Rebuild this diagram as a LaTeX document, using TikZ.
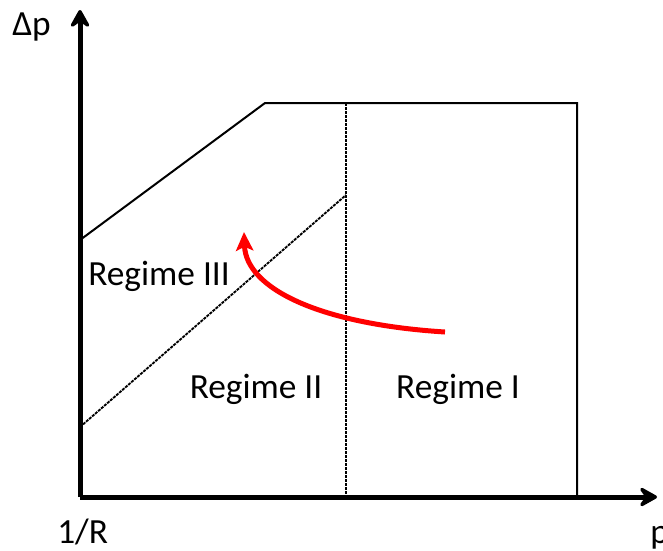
\documentclass[tikz,border=0pt]{standalone}
\usepackage{fontspec}
\setmainfont{Carlito}
\usetikzlibrary{arrows.meta}
\definecolor{flowred}{RGB}{255, 0, 0}

\tikzset{
  axisline/.style={line width=3.75pt, -{Stealth[length=17pt, width=19pt, inset=7pt, round]}},
  boundary/.style={line width=1.5pt},
  splitline/.style={line width=1.4pt, dash pattern=on 2.25pt off 0.75pt},
  regime/.style={inner sep=0pt, anchor=base}
}

\begin{document}
\begin{tikzpicture}[x=0.75pt, y=-0.75pt, every node/.style={font=\fontsize{26.5}{31}\selectfont}]
    \useasboundingbox (0,0) rectangle (663,550);

    % axes
    \coordinate (origin) at (80,497);
    \coordinate (ytip) at (80,10);
    \coordinate (xtip) at (657,497);
    \draw[axisline] (origin) -- (ytip);
    \draw[axisline] (origin) -- (xtip);
    \node[inner sep=0pt, anchor=base west] (dp) at (12,35) {Δp};
    \node[inner sep=0pt, anchor=base west] (invr) at (57,543) {1/R};
    \node[inner sep=0pt, anchor=base west] (pl) at (650,543) {p};

    % outer boundary
    \coordinate (b0) at (80,240);
    \coordinate (b1) at (265,103);
    \coordinate (b2) at (577,103);
    \coordinate (b3) at (577,497);
    \draw[boundary] (b0) -- (b1) -- (b2) -- (b3);

    % regime borders
    \coordinate (s0) at (80,427);
    \coordinate (s1) at (346,195);
    \coordinate (v0) at (346,103);
    \coordinate (v1) at (346,497);
    \draw[splitline] (s0) -- (s1);
    \draw[splitline] (v0) -- (v1);

    \node[regime] (r3) at (159,285) {Regime III};
    \node[regime] (r2) at (256,398) {Regime II};
    \node[regime] (r1) at (458,398) {Regime I};

    % path of the state
    \coordinate (c0) at (445,332);
    \coordinate (c1) at (244,232);
    \draw[flowred, line width=3.75pt, -{Stealth[length=14pt, width=13pt, inset=3pt]}]
        (c0) .. controls (318,324) and (246,288) .. (c1);
\end{tikzpicture}
\end{document}
